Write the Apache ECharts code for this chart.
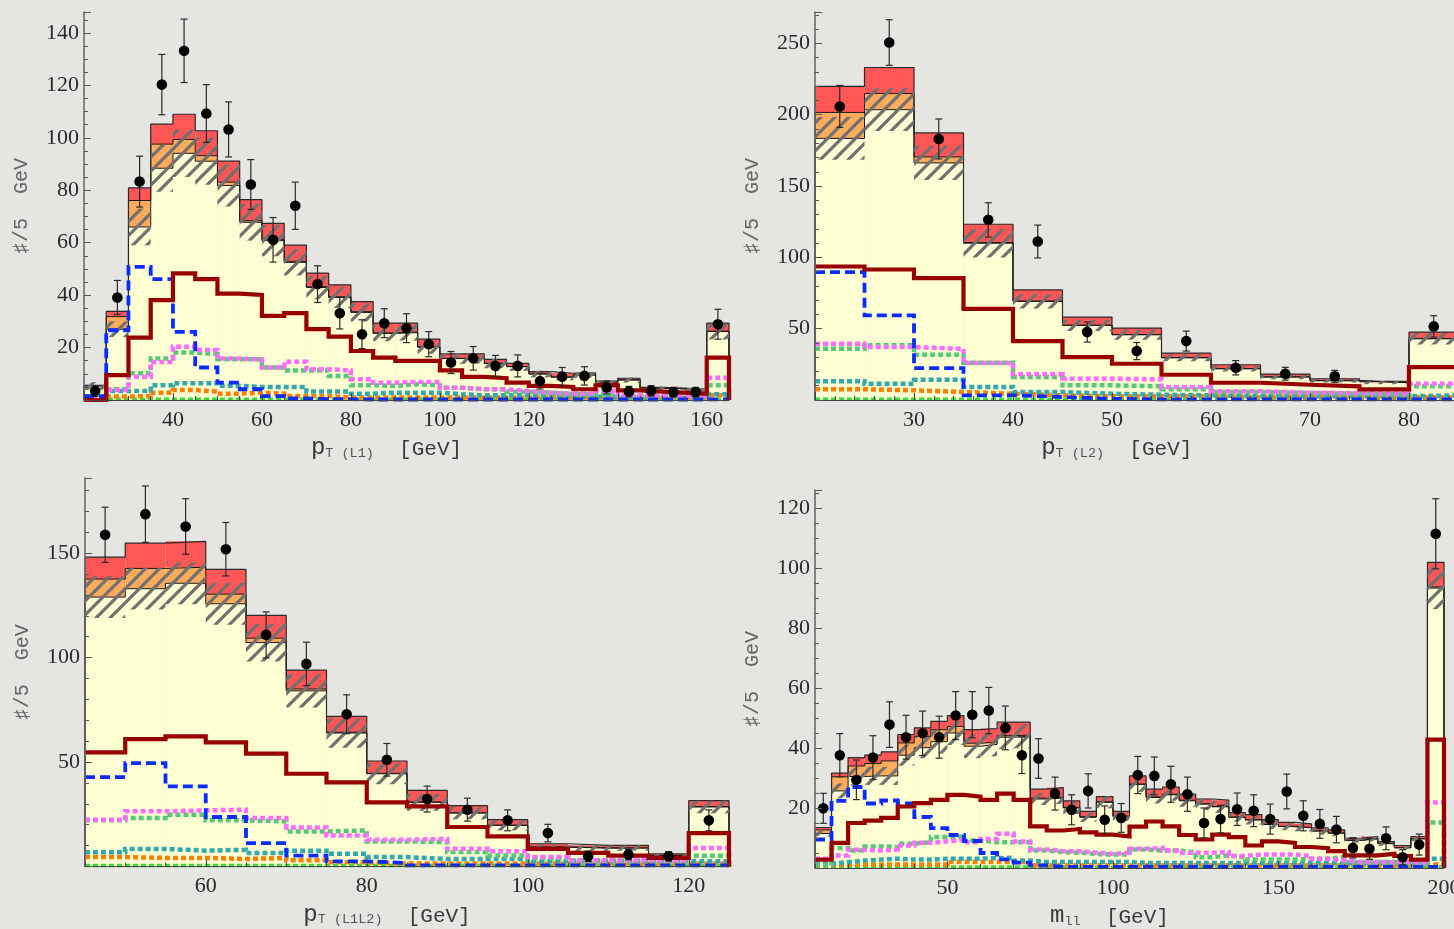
<!DOCTYPE html>
<html><head><meta charset="utf-8">
<script src="https://cdn.jsdelivr.net/npm/echarts@6/dist/echarts.min.js"></script>
<style>html,body{margin:0;padding:0;overflow:hidden;background:#e5e5e1}#c{width:1470px;height:929px}</style>
</head><body><div id="c"></div><script>
// ---------- DATA ----------
const BIN = 5;
// Panel 1: pT(L1)
const p1Edges = [20,25,30,35,40,45,50,55,60,65,70,75,80,85,90,95,100,105,110,115,120,125,130,135,140,145,150,155,160];
const p1Yellow = [5.3,27,66,88.4,94.1,91.1,81.8,67.8,60.8,52.5,42.9,39.1,33.4,25.4,25.7,20.1,15.8,15.8,13.9,12.7,9.9,8.7,9.5,6.4,7.6,4.5,4.2,3.8,26.1];
const p1Orange = [0.2,4.8,10.1,9.2,5.3,2.1,1.3,0.6,0.5,0.4,0.3,0.3,0.3,0.2,0.2,0.2,0.1,0.1,0.1,0.1,0.1,0.1,0.1,0.1,0.1,0.1,0.1,0.1,0.2];
const p1Red = [0.1,2,4.8,7.6,9.6,9.5,8,8,6.1,6.2,5.2,4.5,3.8,3.7,3.4,2.9,1.7,1.7,1.5,1.2,0.8,1.4,0.8,0.7,0.6,0.2,0.2,0.2,3];
const p1Unc = [1.5,3,7,9,9,9,8,7,6,5,4.5,4,3.5,3,3,2.5,2,2,1.8,1.6,1.3,1.2,1.2,1,1,0.8,0.8,0.8,3];
const p1Data = [3.4,39.1,83.3,120.3,133.2,109.3,103.2,82.2,61.1,74.1,44.2,33.1,25.1,29.3,27.4,21.3,14.3,15.9,13,13,7.2,8.9,9.2,4.8,3.2,3.5,3,3,28.9];
const p1Err = [2,6.5,9.7,11.5,12.1,11,10.5,9.5,8.5,9,7,6,5.5,5.5,5.5,4.8,4.2,4.5,4,4.2,3,3.5,3.5,2.5,2,2,1.8,1.8,5.7];
const p1Signal = [0,9.5,23.8,38.1,48.3,46.1,40.6,40.1,32.1,33.1,27,24.2,18.7,16.2,14.9,14.9,11.3,8.8,8.3,6.6,5.4,5,4.1,5.6,3.7,3.2,2.8,2.4,16.2];
const p1Blue = [1.5,26.6,50.8,46.1,26,12.4,6.6,4.1,1.5,0.6,0.3,0.3,0.2,0.2,0.2,0.2,0.2,0.2,0.2,0.2,0.2,0.2,0.2,0.2,0.2,0.2,0.2,0.2,0.3];
const p1Magenta = [0.5,3.8,8.9,14.5,20.3,19.1,15.8,15.5,12.4,14.6,11.7,11.3,7.9,6.6,6.9,6.9,4.7,4.1,4.1,3.4,2.8,2.4,2.4,3.4,1.8,1.5,1.5,1.5,8.5];
const p1Green = [0.3,4.1,10.2,15.8,18.1,17.5,15.5,15.5,12.4,11.3,11.3,9.2,5.6,5.4,6,5.6,4.7,4.1,4.1,3.1,2.8,2.2,2.2,2.4,1.5,1.5,1.5,1.5,5.6];
const p1Teal = [1.2,3.4,3.4,5.6,6.4,6.4,5.4,5,5,5,3.2,3.2,2.4,2.8,2.8,2.8,2.2,1.8,1.8,1.8,1.2,1.2,1.2,1.2,1.2,1.2,1.2,1.2,2.2];
const p1OrangeLine = [0.5,1.3,1.5,2.8,3.8,3.2,2.4,2.8,2.4,1.5,1.5,1,1,1,1,1,1,1,1,1,1,1,1,1,1,1,1,1,1.8];
const p1Lime = [0.3,0.3,0.3,0.3,0.3,0.3,0.3,0.3,0.3,0.3,0.3,0.3,0.3,0.3,0.3,0.3,0.3,0.3,0.3,0.3,0.3,0.3,0.3,0.3,0.3,0.3,0.3,0.3,0.3];

// Panel 2: pT(L2)
const p2Edges = [20,25,30,35,40,45,50,55,60,65,70,75,80];
const p2Yellow = [183.4,203.5,166.2,109.9,69.1,52.3,45.7,29.6,21.9,16.1,13.5,12.1,42.9];
const p2Orange = [18.2,11.4,4.2,0.5,0.3,0.2,0.2,0.1,0.1,0.1,0.1,0.1,0.2];
const p2Red = [18.2,18.2,16.8,12.8,7.8,5.6,4.5,3.2,2.7,2,1.3,0.9,4.5];
const p2Unc = [15,15,12,10,5,4,3.5,2.5,2,1.5,1.2,1,4];
const p2Data = [205.8,250.6,183,126.3,111.1,47.6,34.3,41.3,22.6,18.4,16.6,null,51.6];
const p2Err = [14.7,16,14,12,11.5,7,6,7,5,4.5,4.2,0,7.5];
const p2Signal = [93.6,91.5,85.4,63.9,41.3,30.1,25.4,17.7,12.1,10.7,9.6,7.5,23.1];
const p2Blue = [89.6,59.3,22.4,3.3,2.1,0.8,0.5,0.5,0.5,0.5,0.5,0.5,0.5];
const p2Magenta = [39.4,37.1,35.9,25.9,18,14.9,14.5,9.1,6.1,5.1,4.9,4.4,11.4];
const p2Green = [35.9,38.3,31.7,26.1,16.1,10.3,9.6,7.5,5.6,4.9,4.4,4,9.6];
const p2Teal = [13.1,11.4,14.2,9.1,5.6,4.4,3.7,3.3,2.6,2.6,2.6,2.6,3.3];
const p2OrangeLine = [7.5,6.8,5.6,4.4,3.3,2.6,2.6,2.6,1.9,1.9,1.9,1.9,1.9];
const p2Lime = [0.6,0.6,0.6,0.6,0.6,0.6,0.6,0.6,0.6,0.6,0.6,0.6,0.6];

// Panel 3: pT(L1L2)
const p3Edges = [45,50,55,60,65,70,75,80,85,90,95,100,105,110,115,120];
const p3Yellow = [129,133,135.6,125.8,107.2,84.1,63.9,44.4,30.7,25.6,19.7,9.3,8.8,8.8,5.2,28.5];
const p3Orange = [8.6,9.7,7.7,4.6,2.1,0.9,0.4,0.2,0.2,0.1,0.1,0.1,0.1,0.1,0.1,0.2];
const p3Red = [10.5,12.1,12.4,11.9,10.9,9,7.6,5.9,5.5,3.4,2.6,1.5,1.2,1.2,0.7,2.8];
const p3Unc = [10,10,10,10,9,8,7,5,4,3,2.5,1.2,1.2,1.2,0.8,3];
const p3Data = [158.8,168.7,162.8,151.9,110.9,97,72.9,51.1,32.3,27.2,22.1,16,4.9,5.7,4.9,22.1];
const p3Err = [13.2,13.5,13.3,12.8,11,10.4,9.3,7.8,6.2,5.5,5,4.2,2.5,2.5,2.2,5];
const p3Signal = [54.6,61,62.3,59.4,54,44.4,40.3,30.7,28.8,18.9,14.4,8.4,6.5,5.2,4.1,16];
const p3Blue = [42.8,49.5,38.4,23.7,11.2,5.2,2.5,1.7,0.5,0.5,0.5,0.5,0.5,0.5,0.5,0.5];
const p3Magenta = [22.4,26.4,26.9,27.2,23.2,18.7,14.8,12.8,13.2,8.5,7.3,4.5,3,3,3,8.9];
const p3Green = [22.1,23.2,24.8,22.1,21.6,16.8,17.3,12,11.7,6.9,5.3,4.1,3,3,3,5.2];
const p3Teal = [6.8,8.4,7.6,8,6.5,7.6,6.1,4.5,3.6,3.6,3.6,2.5,2.5,2.5,2.5,2.5];
const p3OrangeLine = [4.5,4.1,4.1,3.6,4.1,3,2,1.4,1.4,1.4,1.4,1.4,1.4,1.4,1.4,1.4];
const p3Lime = [0.5,0.5,0.5,0.5,0.5,0.5,0.5,0.5,0.5,0.5,0.5,0.5,0.5,0.5,0.5,0.5];
const p3XTicks = [60,80,100,120];

// Panel 4: m_ll
const p4Edges = [10,15,20,25,30,35,40,45,50,55,60,65,70,75,80,85,90,95,100,105,110,115,120,125,130,135,140,145,150,155,160,165,170,175,180,185,190,195];
const p4Yellow = [11.5,25.7,30.5,30.7,30.7,37.6,40.1,42.1,45,40.6,41.2,43.6,43.9,23,23.3,20,16.9,21.9,17.1,27.8,23.5,24.4,22.4,21.3,20.4,16.9,16,14.5,13.8,13.4,12.3,11.6,9.2,9.7,8.1,6.7,9.7,93.3];
const p4Orange = [1.2,4.7,3.5,4.1,5,4.1,3.8,4,2.2,1,0.8,0.5,0.4,0.3,0.3,0.2,0.2,0.2,0.2,0.2,0.2,0.2,0.2,0.1,0.1,0.1,0.1,0.1,0.1,0.1,0.1,0.1,0.1,0.1,0.1,0.1,0.1,0.4];
const p4Red = [0.8,1.2,2.8,2.8,3,2.8,2.8,2.8,3.6,4.5,4.5,4.5,4.3,3,3.2,2.2,1.8,1.7,1.6,2.7,2.6,2.4,2,1.6,2.1,1.5,1.7,1.5,1.3,1.2,1,1,0.6,0.7,0.6,0.7,0.7,8.2];
const p4Unc = [1,2.5,3,3,3,3.5,3.5,4,4,4,4,4,4,2,2,2,1.5,2,1.5,2.5,2,2,2,2,2,1.5,1.5,1.5,1.2,1.2,1.2,1,0.8,0.8,0.7,0.6,0.8,7];
const p4Data = [19.9,37.6,29.4,36.8,47.8,43.6,44.9,43.6,50.8,51.1,52.5,46.7,37.6,36.5,24.8,19.4,25.7,16.1,16.7,31,30.7,27.9,24.6,15,16.3,19.6,19.1,16.3,25.5,17.4,14.7,12.8,6.7,6.4,9.9,3.6,7.8,111.4];
const p4Err = [5,7.2,6.6,7.3,7.6,7.3,7.4,7,8,7.7,7.7,7.3,6.1,6.6,5.5,5,5.7,4.6,4.8,6.2,6.3,6,5.7,5,4.6,5.4,5.3,5,5.8,5,4.8,4.4,3.4,3.5,3.8,2.5,3.5,11.7];
const p4Signal = [2.8,8.4,15,15.8,16.7,20.5,21.6,22.7,24.4,23.8,22.7,24.8,22.7,13.9,12.5,13,11.9,11.1,10.5,13.8,15.5,13.9,11,9.5,11.1,10.3,7.5,8.9,8.4,7,6.6,5.6,4.2,4.2,4.7,4,2.8,42.8];
const p4Blue = [9.5,22.4,27,21.5,22.5,21.5,17,13.3,11,9,5,2.9,1.8,0.9,0.4,0.4,0.4,0.4,0.4,0.4,0.4,0.4,0.4,0.4,0.4,0.4,0.4,0.4,0.4,0.4,0.4,0.4,0.4,0.4,0.4,0.4,0.4,0.4];
const p4Magenta = [3.1,4.2,6.1,5.8,6.2,7.5,8.4,8.9,9.4,8.6,9.7,11.4,8.8,6.2,5.6,5.6,5.1,4.7,5.1,6.4,6.7,5.8,5.1,5.1,5.3,4,4.5,4.5,4.5,3.9,3.1,2.5,2,2,2,2,1.7,21.8];
const p4Green = [0.9,6.7,5.8,7.2,7,8.1,8.6,10.3,10.5,9.2,8.6,8.6,8.6,5.8,5.3,5.1,4.7,4.5,4.5,6.2,5.8,5.8,5.3,3.6,4.2,3.6,2.8,2.8,2.8,3.1,3.1,3.6,2,2,2,2,1.4,15.2];
const p4Teal = [1.4,2,2.5,2.8,3.1,2.8,2.8,3.1,3.1,3.1,3.3,3.4,2.5,2,2,2,2,2,2,1.7,1.7,1.7,1.7,1.7,1.7,1.7,1.7,1.7,1.7,1.7,1.7,1.7,1.7,1.7,1.7,1.7,1.7,3.1];
const p4OrangeLine = [0.9,1.2,1.2,1.2,1.2,1.2,1.2,1.2,2,2,2,2,2,0.9,0.9,0.9,0.9,0.9,0.9,0.9,0.9,0.9,0.9,0.9,0.9,0.9,0.9,0.9,0.9,0.9,0.9,0.9,0.9,0.9,0.9,0.9,0.9,1.4];
const p4Lime = [0.3,0.3,0.3,0.3,0.3,0.3,0.3,0.3,0.3,0.3,0.3,0.3,0.3,0.3,0.3,0.3,0.3,0.3,0.3,0.3,0.3,0.3,0.3,0.3,0.3,0.3,0.3,0.3,0.3,0.3,0.3,0.3,0.3,0.3,0.3,0.3,0.3,0.3];
const p4XTicks = [50,100,150,200];

// ---------- STYLE / LAYOUT ----------
const CREAM = '#ffffd4', ORANGE = '#ffab5c', REDC = '#ff5656';
const SERIF = "'Liberation Serif', 'Times New Roman', 'DejaVu Serif', serif";
const MONO = "'Liberation Mono', 'Courier New', 'DejaVu Sans Mono', monospace";
const LINE_STYLES = [
  {color:'#33dd33', width:3.5, type:[5,3], z:5},   // lime
  {color:'#ff8000', width:4.5, type:[5,3], z:5},   // orange
  {color:'#35a8ad', width:4.5, type:[5,3], z:5},   // teal
  {color:'#56c878', width:4.5, type:[5,3], z:6},   // green
  {color:'#ff6cff', width:4.5, type:[5,3], z:6},   // magenta
  {color:'#0a2cff', width:3.8, type:[10,5], z:7},  // blue
  {color:'#980000', width:4.2, type:'solid', z:7}  // signal
];

const panels = [
  {edges:p1Edges, yel:p1Yellow, ora:p1Orange, red:p1Red, unc:p1Unc, dat:p1Data, err:p1Err,
   lines:[p1Lime,p1OrangeLine,p1Teal,p1Green,p1Magenta,p1Blue,p1Signal],
   grid:{left:84, top:12, width:645, height:388}, xmin:20, xmax:165, xint:20, xminor:4, ymax:148, yint:20, yminor:4,
   xname:['p','T (L1)']},
  {edges:p2Edges, yel:p2Yellow, ora:p2Orange, red:p2Red, unc:p2Unc, dat:p2Data, err:p2Err,
   lines:[p2Lime,p2OrangeLine,p2Teal,p2Green,p2Magenta,p2Blue,p2Signal],
   grid:{left:815, top:12, width:643.5, height:388}, xmin:20, xmax:85, xint:10, xminor:5, ymax:272, yint:50, yminor:5,
   xname:['p','T (L2)']},
  {edges:p3Edges, yel:p3Yellow, ora:p3Orange, red:p3Red, unc:p3Unc, dat:p3Data, err:p3Err,
   lines:[p3Lime,p3OrangeLine,p3Teal,p3Green,p3Magenta,p3Blue,p3Signal],
   grid:{left:85, top:478, width:644, height:388.5}, xmin:45, xmax:125, xticks:p3XTicks, xminorStep:5, ymax:186, yint:50, yminor:5,
   xname:['p','T (L1L2)']},
  {edges:p4Edges, yel:p4Yellow, ora:p4Orange, red:p4Red, unc:p4Unc, dat:p4Data, err:p4Err,
   lines:[p4Lime,p4OrangeLine,p4Teal,p4Green,p4Magenta,p4Blue,p4Signal],
   grid:{left:815, top:490, width:629, height:381}, xmin:10, xmax:200, xticks:p4XTicks, xminorStep:10, ymax:126, yint:20, yminor:4,
   xname:['m','ll']}
];

// hatch pattern: continuous "/" diagonals, 14px apart
const HS = 14;
const hc = document.createElement('canvas'); hc.width = HS; hc.height = HS;
(function(){ const g = hc.getContext('2d'); g.strokeStyle = 'rgba(112,112,112,1)'; g.lineWidth = 3.2; g.lineCap = 'square';
  g.beginPath();
  g.moveTo(-1, HS+1); g.lineTo(HS+1, -1);
  g.moveTo(-1, 1); g.lineTo(1, -1);
  g.moveTo(HS-1, HS+1); g.lineTo(HS+1, HS-1);
  g.stroke(); })();

const LBL = {fontFamily:SERIF, fontSize:22, color:'#2a2a2a'};

function stepPts(edges, vals, closeStart, closeEnd) {
  const pts = [];
  if (closeStart) pts.push([edges[0], 0]);
  edges.forEach((e,k) => pts.push([e, vals[k]]));
  const end = edges[edges.length-1] + BIN;
  pts.push([end, vals[vals.length-1]]);
  if (closeEnd) pts.push([end, 0]);
  return pts;
}

const grids = [], xAxes = [], yAxes = [], series = [];
panels.forEach((P, i) => {
  grids.push(Object.assign({containLabel:false}, P.grid));
  const xa = {type:'value', gridIndex:i, min:P.xmin, max:P.xmax, z:20,
    axisLine:{show:true, onZero:false, lineStyle:{color:'#444', width:1.2}},
    splitLine:{show:false},
    axisTick:{inside:true, length:7, lineStyle:{color:'#444'}},
    axisLabel:Object.assign({margin:9}, LBL),
    name:'{p|'+P.xname[0]+'}{s|'+P.xname[1]+'}{g|  [GeV]}', nameLocation:'middle', nameGap:34,
    nameTextStyle:{padding:[0,40,0,0], rich:{
      p:{fontFamily:MONO, fontSize:24, color:'#3a3a3a', lineHeight:26, verticalAlign:'bottom'},
      s:{fontFamily:MONO, fontSize:13.5, color:'#555', lineHeight:11, verticalAlign:'bottom'},
      g:{fontFamily:MONO, fontSize:21, color:'#3a3a3a', lineHeight:26, verticalAlign:'bottom'}}}
  };
  if (P.xint) {
    xa.interval = P.xint;
    xa.minorTick = {show:true, splitNumber:P.xminor, length:4, lineStyle:{color:'#444'}};
    xa.axisLabel.formatter = v => (v === P.xmin || v % P.xint !== 0) ? '' : String(v);
  } else {
    xa.axisLabel.customValues = P.xticks;
    xa.axisTick.customValues = P.xticks;
  }
  xAxes.push(xa);
  yAxes.push({type:'value', gridIndex:i, min:0, max:P.ymax, interval:P.yint, z:20,
    axisLine:{show:true, lineStyle:{color:'#6a6a6a', width:1.6}},
    splitLine:{show:false},
    axisTick:{inside:true, length:7, lineStyle:{color:'#555'}},
    minorTick:{show:true, splitNumber:P.yminor, length:4, lineStyle:{color:'#555'}},
    axisLabel:Object.assign({margin:5, formatter: v => (v === 0 || v % P.yint !== 0) ? '' : String(v)}, LBL),
    name:'♯/5  GeV', nameLocation:'middle', nameGap:52, nameRotate:90,
    nameTextStyle:{fontFamily:MONO, fontSize:20, color:'#666'}
  });

  // stacked fills
  series.push({type:'custom', xAxisIndex:i, yAxisIndex:i, z:1, silent:true,
    data:P.edges.map((e,k) => [e, e+BIN, P.yel[k], P.ora[k], P.red[k]]),
    encode:{x:[0,1], y:[2]},
    renderItem:(params, api) => {
      const x0 = api.value(0), x1 = api.value(1), y = api.value(2), o = api.value(3), r = api.value(4);
      const a = api.coord([x0, 0]), b = api.coord([x1, y]), c = api.coord([x1, y+o]), d = api.coord([x1, y+o+r]);
      const L = a[0], W = b[0] - a[0];
      return {type:'group', children:[
        {type:'rect', shape:{x:L, y:b[1], width:W, height:a[1]-b[1]}, style:{fill:CREAM}},
        {type:'rect', shape:{x:L, y:c[1], width:W, height:b[1]-c[1]}, style:{fill:ORANGE}},
        {type:'rect', shape:{x:L, y:d[1], width:W, height:c[1]-d[1]}, style:{fill:REDC}}
      ]};
    }});
  // outlines
  const cumO = P.yel.map((v,k) => v + P.ora[k]);
  const cumR = cumO.map((v,k) => v + P.red[k]);
  [[P.yel,'#1a1a1a',1],[cumO,'#1a1a1a',1],[cumR,'#2a2a2a',1.2]].forEach(([vals,col,w]) => {
    series.push({type:'line', xAxisIndex:i, yAxisIndex:i, step:'end', symbol:'none', silent:true, z:3,
      data:stepPts(P.edges, vals, true, true), lineStyle:{color:col, width:w}});
  });
  // hatch band
  series.push({type:'custom', xAxisIndex:i, yAxisIndex:i, z:4, silent:true,
    data:P.edges.map((e,k) => [e, e+BIN, P.yel[k], P.unc[k]]),
    encode:{x:[0,1], y:[2]},
    renderItem:(params, api) => {
      const x0 = api.value(0), x1 = api.value(1), y = api.value(2), u = api.value(3);
      const a = api.coord([x0, y+u]), b = api.coord([x1, Math.max(0, y-u)]);
      return {type:'rect', shape:{x:a[0], y:a[1], width:b[0]-a[0], height:b[1]-a[1]},
        style:{fill:{image:hc, repeat:'repeat'}}};
    }});
  // model lines
  P.lines.forEach((vals, k) => {
    const s = LINE_STYLES[k];
    series.push({type:'line', xAxisIndex:i, yAxisIndex:i, step:'end', symbol:'none', silent:true, z:s.z,
      data:stepPts(P.edges, vals, false, true),
      lineStyle:{color:s.color, width:s.width, type:s.type, cap:'butt', join:'miter'}});
  });
  // data points with error bars
  series.push({type:'custom', xAxisIndex:i, yAxisIndex:i, z:10, silent:true,
    data:P.edges.map((e,k) => [e + BIN/2, P.dat[k], P.err[k]]).filter(d => d[1] !== null),
    encode:{x:[0], y:[1]},
    renderItem:(params, api) => {
      const x = api.value(0), y = api.value(1), e = api.value(2);
      const c = api.coord([x, y]), lo = api.coord([x, y-e]), hi = api.coord([x, y+e]);
      const st = {stroke:'#2a2a2a', lineWidth:1.2};
      return {type:'group', children:[
        {type:'line', shape:{x1:c[0], y1:lo[1], x2:c[0], y2:hi[1]}, style:st},
        {type:'line', shape:{x1:c[0]-3.5, y1:lo[1], x2:c[0]+3.5, y2:lo[1]}, style:st},
        {type:'line', shape:{x1:c[0]-3.5, y1:hi[1], x2:c[0]+3.5, y2:hi[1]}, style:st},
        {type:'circle', shape:{cx:c[0], cy:c[1], r:5.3}, style:{fill:'#000'}}
      ]};
    }});
});

// extra axes for minor ticks on panels 3 and 4
panels.forEach((P, i) => {
  if (!P.xint) {
    const mv = [];
    for (let v = P.xmin; v <= P.xmax + 1e-9; v += P.xminorStep) if (P.xticks.indexOf(v) < 0) mv.push(v);
    xAxes.push({type:'value', gridIndex:i, min:P.xmin, max:P.xmax, position:'bottom', z:20,
      axisLine:{show:false}, splitLine:{show:false}, axisLabel:{show:false},
      axisTick:{show:true, inside:true, length:4, customValues:mv, lineStyle:{color:'#444'}}});
  }
});

const chart = echarts.init(document.getElementById('c'), null, {renderer:'canvas'});
chart.setOption({backgroundColor:'#e5e5e1', animation:false, grid:grids, xAxis:xAxes, yAxis:yAxes, series:series});
</script></body></html>
